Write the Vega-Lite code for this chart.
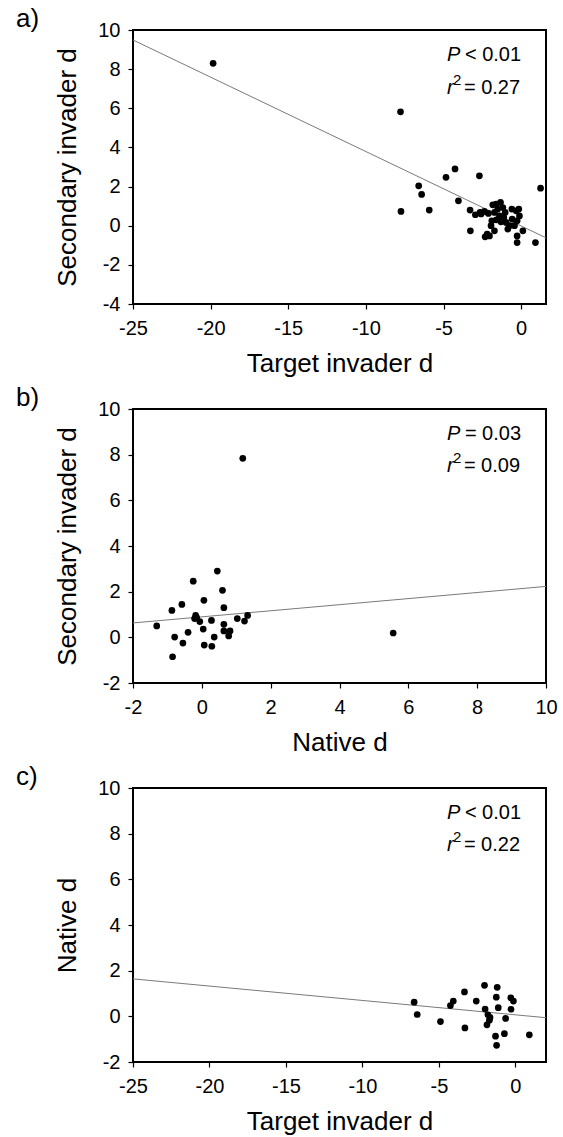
{
  "$schema": "https://vega.github.io/schema/vega-lite/v6.json",
  "padding": {"left": 15, "top": 5, "right": 5, "bottom": 2},
  "spacing": 7,
  "background": "white",
  "config": {
    "view": {"stroke": "black", "strokeWidth": 2},
    "font": "Liberation Sans",
    "axis": {"grid": false, "domain": false, "ticks": true, "tickColor": "black", "tickSize": 5, "tickWidth": 1.2, "labelFont": "Liberation Sans", "labelFontSize": 20, "labelColor": "black", "labelFlush": false, "labelOverlap": false, "labelExpr": "'' + datum.value", "titleFont": "Liberation Sans", "titleFontSize": 26, "titleFontWeight": "normal", "titleColor": "black"},
    "axisX": {"labelPadding": 9, "titlePadding": 12},
    "axisY": {"labelPadding": 8, "titlePadding": 17},
    "title": {"font": "Liberation Sans", "fontSize": 26, "fontWeight": "normal", "color": "black", "anchor": "start", "frame": "group", "dx": -117, "offset": -12, "baseline": "alphabetic"}
  },
  "datasets": {
    "a_pts": [
      {"x": -19.84, "y": 8.30}, {"x": -7.77, "y": 5.82}, {"x": -7.74, "y": 0.73}, {"x": -6.6, "y": 2.04}, {"x": -6.41, "y": 1.60}, {"x": -5.92, "y": 0.80}, {"x": -4.84, "y": 2.47}, {"x": -4.26, "y": 2.90}, {"x": -2.69, "y": 2.55}, {"x": -4.04, "y": 1.27}, {"x": -3.29, "y": 0.80}, {"x": -3.27, "y": -0.26}, {"x": 1.25, "y": 1.92}, {"x": 0.92, "y": -0.86}, {"x": -0.26, "y": -0.86}, {"x": -0.26, "y": -0.52}, {"x": 0.11, "y": -0.26}, {"x": -0.26, "y": 0.25}, {"x": -0.32, "y": 0.76}, {"x": -0.15, "y": 0.85},
      {"x": -2.95, "y": 0.56}, {"x": -2.65, "y": 0.68}, {"x": -2.37, "y": 0.73}, {"x": -2.58, "y": 0.6}, {"x": -2.11, "y": 0.63}, {"x": -1.83, "y": 1.07}, {"x": -1.61, "y": 1.10}, {"x": -1.33, "y": 1.19}, {"x": -1.51, "y": 0.85}, {"x": -1.72, "y": 0.68}, {"x": -1.89, "y": 0.25}, {"x": -1.94, "y": 0.0}, {"x": -1.72, "y": -0.26}, {"x": -2.19, "y": -0.43}, {"x": -2.32, "y": -0.57}, {"x": -2.04, "y": -0.52}, {"x": -1.18, "y": 0.93}, {"x": -1.03, "y": 0.68}, {"x": -1.12, "y": 0.42}, {"x": -0.97, "y": 0.16}, {"x": -0.75, "y": 0.0}, {"x": -0.86, "y": -0.17}, {"x": -0.58, "y": 0.34}, {"x": -0.43, "y": 0.0}, {"x": -0.11, "y": 0.5}, {"x": -1.4, "y": 0.5}, {"x": -1.6, "y": 0.3}, {"x": -1.3, "y": 0.2}, {"x": -0.6, "y": 0.85}
    ],
    "a_line": [{"x": -25, "y": 9.49}, {"x": 1.6, "y": -0.62}],
    "b_pts": [
      {"x": 1.19, "y": 7.84}, {"x": 5.56, "y": 0.19}, {"x": 0.45, "y": 2.90}, {"x": -0.25, "y": 2.46}, {"x": 0.60, "y": 2.06}, {"x": 0.06, "y": 1.62}, {"x": -0.58, "y": 1.44}, {"x": -0.87, "y": 1.18}, {"x": 0.64, "y": 1.30}, {"x": -1.31, "y": 0.50}, {"x": -0.18, "y": 0.96}, {"x": -0.15, "y": 0.86}, {"x": -0.21, "y": 0.82}, {"x": -0.06, "y": 0.69}, {"x": 0.28, "y": 0.74}, {"x": 1.03, "y": 0.82}, {"x": 1.33, "y": 0.96}, {"x": 1.24, "y": 0.71}, {"x": 0.64, "y": 0.57}, {"x": 0.04, "y": 0.36}, {"x": -0.40, "y": 0.22}, {"x": -0.79, "y": 0.01}, {"x": 0.36, "y": 0.01}, {"x": 0.64, "y": 0.28}, {"x": 0.82, "y": 0.28}, {"x": 0.78, "y": 0.06}, {"x": -0.55, "y": -0.25}, {"x": 0.07, "y": -0.34}, {"x": 0.29, "y": -0.39}, {"x": -0.85, "y": -0.85}
    ],
    "b_line": [{"x": -2, "y": 0.63}, {"x": 10, "y": 2.23}],
    "c_pts": [
      {"x": -6.62, "y": 0.62}, {"x": -6.42, "y": 0.08}, {"x": -4.9, "y": -0.23}, {"x": -4.25, "y": 0.47}, {"x": -4.06, "y": 0.67}, {"x": -3.33, "y": 1.07}, {"x": -3.3, "y": -0.51}, {"x": -2.56, "y": 0.67}, {"x": -2.02, "y": 1.36}, {"x": -1.98, "y": 0.32}, {"x": -1.8, "y": 0.07}, {"x": -1.66, "y": -0.05}, {"x": -1.7, "y": -0.17}, {"x": -1.86, "y": -0.37}, {"x": -1.19, "y": 1.27}, {"x": -1.25, "y": 0.84}, {"x": -1.12, "y": 0.38}, {"x": -1.3, "y": -0.87}, {"x": -1.23, "y": -1.27}, {"x": -0.72, "y": -0.76}, {"x": -0.64, "y": -0.09}, {"x": -0.3, "y": 0.81}, {"x": -0.13, "y": 0.67}, {"x": -0.29, "y": 0.31}, {"x": 0.91, "y": -0.81}
    ],
    "c_line": [{"x": -25, "y": 1.64}, {"x": 2, "y": -0.06}],
    "ann": [
      {"panel": "a", "line": 1, "x": -4.78, "y": 8.44, "lead": "P", "rest": "< 0.01"},
      {"panel": "a", "line": 2, "x": -4.78, "y": 6.75, "lead": "r", "sup": "2", "rest": "= 0.27"},
      {"panel": "b", "line": 1, "x": 7.12, "y": 8.66, "lead": "P", "rest": "= 0.03"},
      {"panel": "b", "line": 2, "x": 7.12, "y": 7.22, "lead": "r", "sup": "2", "rest": "= 0.09"},
      {"panel": "c", "line": 1, "x": -4.48, "y": 8.66, "lead": "P", "rest": "< 0.01"},
      {"panel": "c", "line": 2, "x": -4.48, "y": 7.22, "lead": "r", "sup": "2", "rest": "= 0.22"}
    ]
  },
  "vconcat": [
    {
      "width": 413, "height": 274,
      "title": {"text": "a)"},
      "encoding": {
        "x": {"field": "x", "type": "quantitative", "scale": {"domain": [-25, 1.6], "nice": false, "zero": false}, "axis": {"values": [-25, -20, -15, -10, -5, 0], "title": "Target invader d"}},
        "y": {"field": "y", "type": "quantitative", "scale": {"domain": [-4, 10], "nice": false, "zero": false}, "axis": {"values": [-4, -2, 0, 2, 4, 6, 8, 10], "title": "Secondary invader d"}}
      },
      "layer": [
        {"data": {"name": "a_line"}, "mark": {"type": "line", "color": "#7a7a7a", "strokeWidth": 1}, "encoding": {}},
        {"data": {"name": "a_pts"}, "mark": {"type": "circle", "size": 45, "color": "black", "opacity": 1}},
        {"data": {"name": "ann"}, "transform": [{"filter": "datum.panel == 'a'"}], "mark": {"type": "text", "align": "left", "baseline": "alphabetic", "fontSize": 20, "fontStyle": "italic", "color": "black"}, "encoding": {"text": {"field": "lead"}}},
        {"data": {"name": "ann"}, "transform": [{"filter": "datum.panel == 'a' && datum.line == 1"}], "mark": {"type": "text", "align": "left", "baseline": "alphabetic", "fontSize": 20, "dx": 18, "color": "black"}, "encoding": {"text": {"field": "rest"}}},
        {"data": {"name": "ann"}, "transform": [{"filter": "datum.panel == 'a' && datum.line == 2"}], "mark": {"type": "text", "align": "left", "baseline": "alphabetic", "fontSize": 20, "dx": 17, "color": "black"}, "encoding": {"text": {"field": "rest"}}},
        {"data": {"name": "ann"}, "transform": [{"filter": "datum.panel == 'a' && datum.line == 2"}], "mark": {"type": "text", "align": "left", "baseline": "alphabetic", "fontSize": 15, "dx": 6, "dy": -9, "color": "black"}, "encoding": {"text": {"field": "sup"}}}
      ]
    },
    {
      "width": 413, "height": 274,
      "title": {"text": "b)"},
      "encoding": {
        "x": {"field": "x", "type": "quantitative", "scale": {"domain": [-2, 10], "nice": false, "zero": false}, "axis": {"values": [-2, 0, 2, 4, 6, 8, 10], "title": "Native d"}},
        "y": {"field": "y", "type": "quantitative", "scale": {"domain": [-2, 10], "nice": false, "zero": false}, "axis": {"values": [-2, 0, 2, 4, 6, 8, 10], "title": "Secondary invader d"}}
      },
      "layer": [
        {"data": {"name": "b_line"}, "mark": {"type": "line", "color": "#7a7a7a", "strokeWidth": 1}, "encoding": {}},
        {"data": {"name": "b_pts"}, "mark": {"type": "circle", "size": 45, "color": "black", "opacity": 1}},
        {"data": {"name": "ann"}, "transform": [{"filter": "datum.panel == 'b'"}], "mark": {"type": "text", "align": "left", "baseline": "alphabetic", "fontSize": 20, "fontStyle": "italic", "color": "black"}, "encoding": {"text": {"field": "lead"}}},
        {"data": {"name": "ann"}, "transform": [{"filter": "datum.panel == 'b' && datum.line == 1"}], "mark": {"type": "text", "align": "left", "baseline": "alphabetic", "fontSize": 20, "dx": 18, "color": "black"}, "encoding": {"text": {"field": "rest"}}},
        {"data": {"name": "ann"}, "transform": [{"filter": "datum.panel == 'b' && datum.line == 2"}], "mark": {"type": "text", "align": "left", "baseline": "alphabetic", "fontSize": 20, "dx": 17, "color": "black"}, "encoding": {"text": {"field": "rest"}}},
        {"data": {"name": "ann"}, "transform": [{"filter": "datum.panel == 'b' && datum.line == 2"}], "mark": {"type": "text", "align": "left", "baseline": "alphabetic", "fontSize": 15, "dx": 6, "dy": -9, "color": "black"}, "encoding": {"text": {"field": "sup"}}}
      ]
    },
    {
      "width": 413, "height": 274,
      "title": {"text": "c)"},
      "encoding": {
        "x": {"field": "x", "type": "quantitative", "scale": {"domain": [-25, 2], "nice": false, "zero": false}, "axis": {"values": [-25, -20, -15, -10, -5, 0], "title": "Target invader d"}},
        "y": {"field": "y", "type": "quantitative", "scale": {"domain": [-2, 10], "nice": false, "zero": false}, "axis": {"values": [-2, 0, 2, 4, 6, 8, 10], "title": "Native d"}}
      },
      "layer": [
        {"data": {"name": "c_line"}, "mark": {"type": "line", "color": "#7a7a7a", "strokeWidth": 1}, "encoding": {}},
        {"data": {"name": "c_pts"}, "mark": {"type": "circle", "size": 45, "color": "black", "opacity": 1}},
        {"data": {"name": "ann"}, "transform": [{"filter": "datum.panel == 'c'"}], "mark": {"type": "text", "align": "left", "baseline": "alphabetic", "fontSize": 20, "fontStyle": "italic", "color": "black"}, "encoding": {"text": {"field": "lead"}}},
        {"data": {"name": "ann"}, "transform": [{"filter": "datum.panel == 'c' && datum.line == 1"}], "mark": {"type": "text", "align": "left", "baseline": "alphabetic", "fontSize": 20, "dx": 18, "color": "black"}, "encoding": {"text": {"field": "rest"}}},
        {"data": {"name": "ann"}, "transform": [{"filter": "datum.panel == 'c' && datum.line == 2"}], "mark": {"type": "text", "align": "left", "baseline": "alphabetic", "fontSize": 20, "dx": 17, "color": "black"}, "encoding": {"text": {"field": "rest"}}},
        {"data": {"name": "ann"}, "transform": [{"filter": "datum.panel == 'c' && datum.line == 2"}], "mark": {"type": "text", "align": "left", "baseline": "alphabetic", "fontSize": 15, "dx": 6, "dy": -9, "color": "black"}, "encoding": {"text": {"field": "sup"}}}
      ]
    }
  ]
}
